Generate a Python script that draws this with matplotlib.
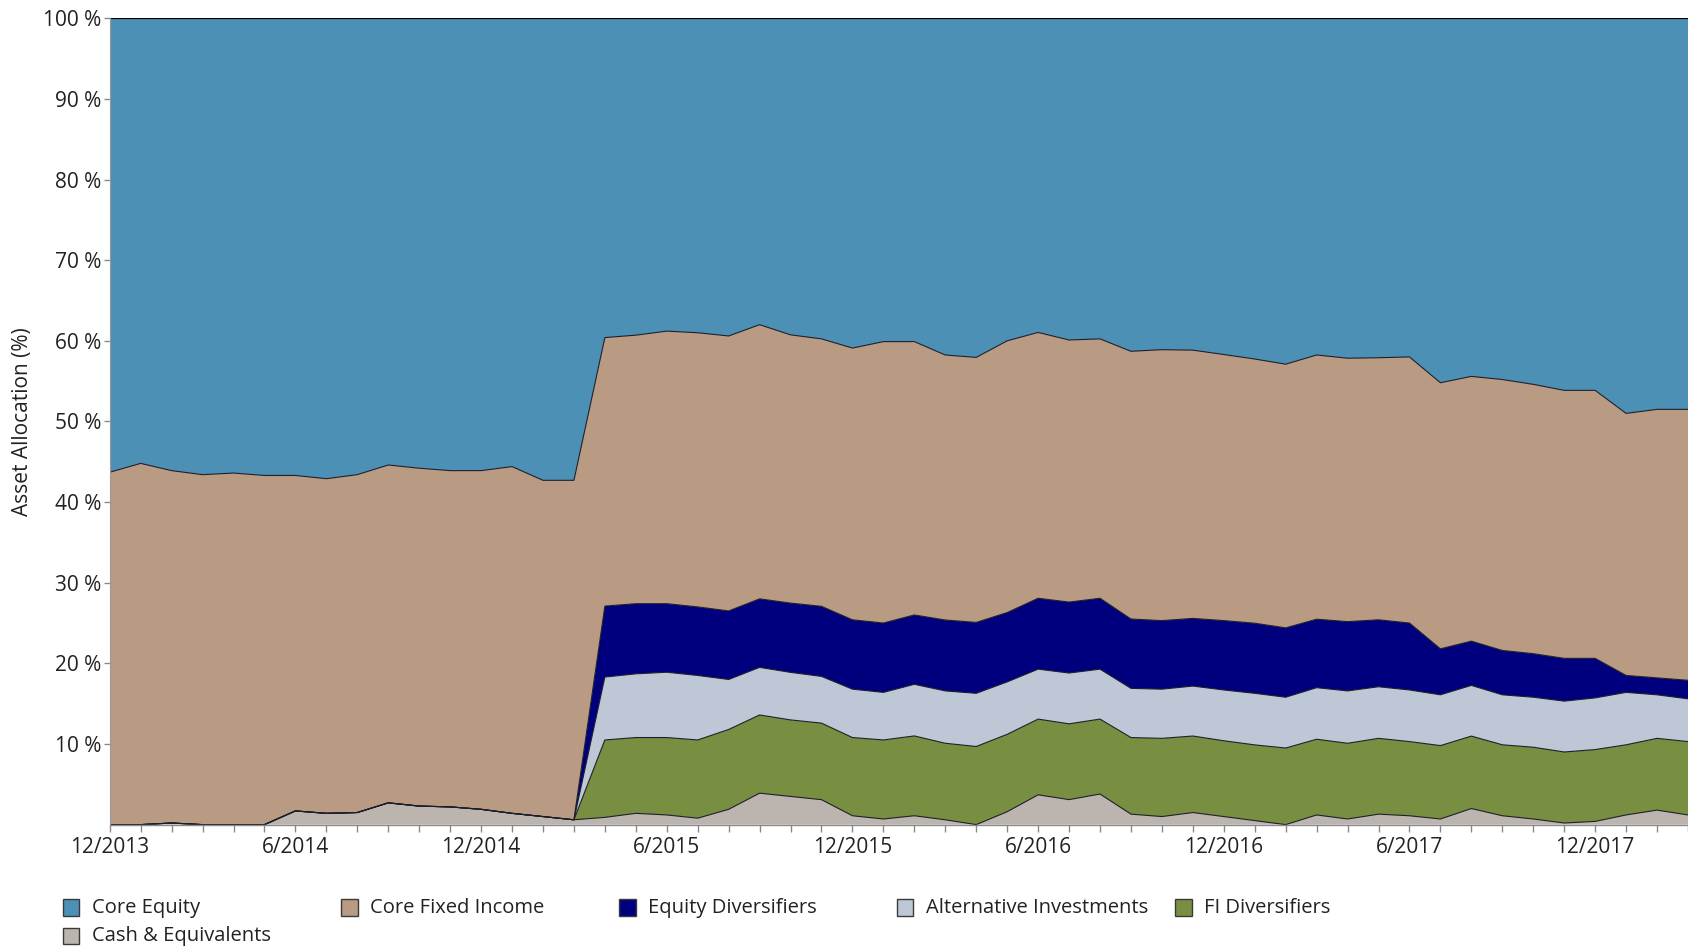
import matplotlib
matplotlib.use("Agg")
import matplotlib.pyplot as plt
from matplotlib.patches import Rectangle
import numpy as np

plt.rcParams['font.family'] = ['Open Sans', 'DejaVu Sans']

# ---- data (monthly, 12/2013 .. 3/2018) ----
n_months = 52
cash = [0.0, 0.0, 0.2, 0.0, 0.0, 0.0, 1.7, 1.4, 1.5, 2.7, 2.3, 2.2, 1.9, 1.4, 1.0, 0.6,
        0.9, 1.4, 1.2, 0.8, 1.9, 3.9, 3.5, 3.1, 1.1, 0.7, 1.1, 0.6, 0.0, 1.6, 3.7, 3.1,
        3.8, 1.3, 1.0, 1.5, 1.0, 0.5, 0.0, 1.2, 0.7, 1.3, 1.1, 0.7, 2.0, 1.1, 0.7, 0.2,
        0.4, 1.2, 1.8, 1.2]
fi_div = [0.0] * 16 + [9.6, 9.4, 9.6, 9.7, 9.9, 9.7, 9.5, 9.5, 9.7, 9.8, 9.9, 9.5, 9.7, 9.6,
                       9.4, 9.4, 9.3, 9.5, 9.7, 9.5, 9.4, 9.4, 9.5, 9.4, 9.4, 9.4, 9.2, 9.1,
                       9.0, 8.8, 8.9, 8.8, 8.9, 8.7, 8.9, 9.1]
alt_inv = [0.0] * 16 + [7.8, 7.9, 8.1, 8.0, 6.2, 5.9, 5.9, 5.8, 6.0, 5.9, 6.4, 6.5, 6.6, 6.5,
                        6.2, 6.3, 6.2, 6.1, 6.1, 6.2, 6.3, 6.4, 6.3, 6.4, 6.5, 6.4, 6.4, 6.3,
                        6.3, 6.2, 6.2, 6.3, 6.4, 6.5, 5.4, 5.3]
eq_div = [0.0] * 16 + [8.8, 8.7, 8.5, 8.5, 8.5, 8.5, 8.6, 8.7, 8.6, 8.6, 8.6, 8.8, 8.8, 8.6,
                       8.8, 8.8, 8.8, 8.6, 8.5, 8.4, 8.6, 8.7, 8.6, 8.5, 8.6, 8.3, 8.3, 5.7,
                       5.5, 5.5, 5.4, 5.3, 4.9, 2.1, 2.1, 2.3]
core_fi = [43.7, 44.8, 43.7, 43.4, 43.6, 43.3, 41.6, 41.5, 41.9, 41.9, 41.9, 41.7, 42.0, 43.0,
           41.7, 42.1, 33.3, 33.3, 33.8, 34.0, 34.1, 34.0, 33.3, 33.2, 33.7, 34.9, 33.9, 32.9,
           32.9, 33.7, 33.0, 32.5, 32.2, 33.2, 33.6, 33.3, 33.0, 32.8, 32.7, 32.8, 32.7, 32.5,
           33.0, 33.0, 32.9, 33.6, 33.4, 33.2, 33.2, 32.5, 33.3, 33.6]
core_eq = [56.3, 55.2, 56.1, 56.6, 56.4, 56.7, 56.7, 57.1, 56.6, 55.4, 55.8, 56.1, 56.1, 55.6,
           57.3, 57.3, 39.6, 39.3, 38.8, 39.0, 39.4, 38.0, 39.3, 39.8, 40.9, 40.1, 40.1, 41.8,
           42.1, 40.0, 39.0, 39.9, 39.8, 41.3, 41.1, 41.2, 41.7, 42.3, 42.9, 41.8, 42.2, 42.1,
           42.0, 45.2, 44.5, 44.8, 45.4, 46.1, 46.1, 49.0, 48.5, 48.5]

tick_labels = ["12/2013", "6/2014", "12/2014", "6/2015", "12/2015", "6/2016",
               "12/2016", "6/2017", "12/2017"]
y_ticks = [10, 20, 30, 40, 50, 60, 70, 80, 90, 100]

# stacking order bottom -> top
series_names = ["Cash & Equivalents", "FI Diversifiers", "Alternative Investments",
                "Equity Diversifiers", "Core Fixed Income", "Core Equity"]
series_vals = [cash, fi_div, alt_inv, eq_div, core_fi, core_eq]
series_cols = ["#bcb4ae", "#788e41", "#bec7d5", "#00007e", "#b89b82", "#4c91b5"]

arr = np.array(series_vals, dtype=float)
arr = arr / arr.sum(axis=0) * 100.0
x = np.arange(n_months)

fig = plt.figure(figsize=(16.88, 9.46), dpi=100)
ax = fig.add_axes([0.065, 0.1283, 0.935, 0.8524])

ax.stackplot(x, arr, colors=series_cols, linewidth=0)
cum = np.cumsum(arr, axis=0)
for i in range(len(series_names) - 1):
    ax.plot(x, cum[i], color="#1e1e2a", lw=0.8, solid_joinstyle="miter")
ax.plot(x, cum[-1], color="black", lw=1.6)

ax.set_xlim(0, n_months - 1)
ax.set_ylim(0, 100)

ax.set_xticks(np.arange(0, 49, 6))
ax.set_xticklabels(tick_labels)
ax.set_xticks(np.arange(0, n_months), minor=True)
ax.set_yticks(y_ticks)
ax.set_yticklabels([f"{v} %" for v in y_ticks])

for s in ["top", "right"]:
    ax.spines[s].set_visible(False)
ax.spines["left"].set_color("#9a9a9a")
ax.spines["left"].set_linewidth(0.8)
ax.spines["bottom"].set_color("#8a8a8a")
ax.spines["bottom"].set_linewidth(1.0)

ax.tick_params(axis="x", which="both", direction="out", length=5, width=1,
               color="#8a8a8a", labelsize=15, labelcolor="#222222", pad=4)
ax.tick_params(axis="y", which="both", direction="out", length=4, width=1,
               color="#8a8a8a", labelsize=15, labelcolor="#222222", pad=2)

ax.set_ylabel("Asset Allocation (%)", fontsize=15, color="#222222")
ax.yaxis.set_label_coords(-0.0485, 0.5)

# legend (manual, fixed column grid)
legend_order = ["Core Equity", "Core Fixed Income", "Equity Diversifiers",
                "Alternative Investments", "FI Diversifiers", "Cash & Equivalents"]
W, H = 1688.0, 946.0
col_x = [63.0, 341.0, 619.0, 897.0, 1175.0]
row_y = [907.5, 936.0]
sq = 16.5
for k, name in enumerate(legend_order):
    r, c = divmod(k, 5)
    idx = series_names.index(name)
    x0 = col_x[c]
    yc = row_y[r]
    fig.patches.append(Rectangle((x0 / W, 1 - (yc + sq / 2) / H), sq / W, sq / H,
                                 transform=fig.transFigure, facecolor=series_cols[idx],
                                 edgecolor="#3a3a3a", linewidth=1.0))
    fig.text((x0 + 29.5) / W, 1 - yc / H, name, fontsize=14.5, color="#222222",
             va="center", ha="left")

fig.savefig("out.png", dpi=100)
